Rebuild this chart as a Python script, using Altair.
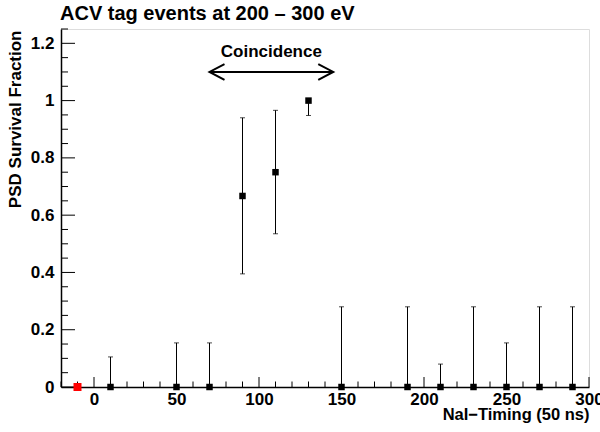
import altair as alt
import pandas as pd

# ---- data ----
bin_x = [10, 50, 70, 90, 110, 130, 150, 190, 210, 230, 250, 270, 290]
frac = [0, 0, 0, 0.667, 0.75, 1.0, 0, 0, 0, 0, 0, 0, 0]
err_lo = [0, 0, 0, 0.395, 0.535, 0.948, 0, 0, 0, 0, 0, 0, 0]
err_hi = [0.105, 0.154, 0.154, 0.94, 0.966, 1.0, 0.28, 0.28, 0.08, 0.28, 0.154, 0.28, 0.28]
red_x = [-10]
red_y = [0]

x_domain = [-20, 300]
y_domain = [0, 1.25]
x_major = [0, 50, 100, 150, 200, 250, 300]
x_minor = [-20, -10, 10, 20, 30, 40, 60, 70, 80, 90, 110, 120, 130, 140, 160, 170, 180,
           190, 210, 220, 230, 240, 260, 270, 280, 290]
y_major = [0, 0.2, 0.4, 0.6, 0.8, 1.0, 1.2]
y_minor = [0.05, 0.1, 0.15, 0.25, 0.3, 0.35, 0.45, 0.5, 0.55, 0.65, 0.7, 0.75, 0.85, 0.9,
           0.95, 1.05, 1.1, 1.15, 1.25]

arrow_x = [70, 145]
arrow_y = [1.1]
note_x = [107.5]
note_y = [1.153]
note_text = ["Coincidence"]

title_text = "ACV tag events at 200 – 300 eV"
x_title = "NaI−Timing (50 ns)"
y_title = "PSD Survival Fraction"

W, H = 528, 358
FONT = "Liberation Sans"

pts = pd.DataFrame({"x": bin_x, "y": frac, "lo": err_lo, "hi": err_hi})
red = pd.DataFrame({"x": red_x, "y": red_y})
xmaj = pd.DataFrame({"x": x_major})
xmin = pd.DataFrame({"x": x_minor})
ymaj = pd.DataFrame({"y": y_major})
ymin = pd.DataFrame({"y": y_minor})
arrow = pd.DataFrame({"x": [arrow_x[0]], "x2": [arrow_x[1]], "y": arrow_y})
heads = pd.DataFrame({"x": arrow_x, "y": arrow_y * 2, "side": ["left", "right"]})
note = pd.DataFrame({"x": note_x, "y": note_y, "t": note_text})

xs = alt.Scale(domain=x_domain, nice=False, zero=False)
ys = alt.Scale(domain=y_domain, nice=False, zero=False)

xaxis = alt.Axis(
    values=x_major, ticks=False, tickSize=0, grid=False,
    domainColor="black", domainWidth=1.5,
    labelFont=FONT, labelFontWeight="bold", labelFontSize=17, labelColor="black",
    labelPadding=4, labelFlush=False, labelBound=False, labelOverlap=False,
    title=x_title, titleFont=FONT, titleFontSize=16.5, titleFontWeight="bold",
    titleColor="black", titleAnchor="end", titleAlign="right",
    titleBaseline="alphabetic", titleX=W, titleY=32,
)
yaxis = alt.Axis(
    values=y_major, ticks=False, tickSize=0, grid=False,
    labelExpr="datum.value == 0 ? '0\u00a0\u00a0' : format(datum.value, '~g')",
    domainColor="black", domainWidth=1.5,
    labelFont=FONT, labelFontWeight="bold", labelFontSize=17, labelColor="black",
    labelPadding=7, labelFlush=False, labelBound=False, labelOverlap=False,
    title=y_title, titleFont=FONT, titleFontSize=17, titleFontWeight="bold",
    titleColor="black", titleAngle=270, titleAlign="right", titleBaseline="middle",
    titleX=-46, titleY=1,
)

X = alt.X("x:Q", scale=xs, axis=xaxis)
Y = alt.Y("y:Q", scale=ys, axis=yaxis)

errbars = alt.Chart(pts).mark_rule(color="black", strokeWidth=1).encode(
    x=X, y=alt.Y("lo:Q", scale=ys, axis=yaxis), y2="hi:Q"
)
caps_hi = alt.Chart(pts).mark_point(shape="stroke", size=25, color="black",
                                    strokeWidth=1).encode(
    x=X, y=alt.Y("hi:Q", scale=ys, axis=yaxis))
caps_lo = alt.Chart(pts).mark_point(shape="stroke", size=25, color="black",
                                    strokeWidth=1).encode(
    x=X, y=alt.Y("lo:Q", scale=ys, axis=yaxis))
points = alt.Chart(pts).mark_point(shape="square", filled=True, size=42,
                                   color="black", opacity=1).encode(x=X, y=Y)
red_pt = alt.Chart(red).mark_point(shape="square", filled=True, size=64,
                                   color="#ff0000", opacity=1).encode(x=X, y=Y)

xt_major = alt.Chart(xmaj).mark_rule(color="black", strokeWidth=1).encode(
    x=X, y=alt.value(H), y2=alt.value(H - 10))
xt_minor = alt.Chart(xmin).mark_rule(color="black", strokeWidth=1).encode(
    x=X, y=alt.value(H), y2=alt.value(H - 5.5))
yt_major = alt.Chart(ymaj).mark_rule(color="black", strokeWidth=1).encode(
    y=Y, x=alt.value(0), x2=alt.value(14))
yt_minor = alt.Chart(ymin).mark_rule(color="black", strokeWidth=1).encode(
    y=Y, x=alt.value(0), x2=alt.value(7))

arrow_line = alt.Chart(arrow).mark_rule(color="black", strokeWidth=2).encode(
    x=X, x2="x2:Q", y=Y)
head_l = alt.Chart(heads[heads.side == "left"]).mark_point(
    shape="M 1 -0.53 L 0 0 L 1 0.53", size=900, filled=False, color="black",
    strokeWidth=2, opacity=1).encode(x=X, y=Y)
head_r = alt.Chart(heads[heads.side == "right"]).mark_point(
    shape="M -1 -0.53 L 0 0 L -1 0.53", size=900, filled=False, color="black",
    strokeWidth=2, opacity=1).encode(x=X, y=Y)
note_txt = alt.Chart(note).mark_text(font=FONT, fontWeight="bold", fontSize=17,
                                     color="black", align="center",
                                     baseline="alphabetic").encode(x=X, y=Y, text="t:N")

chart = alt.layer(
    xt_minor, xt_major, yt_minor, yt_major,
    errbars, caps_hi, caps_lo, points, red_pt,
    arrow_line, head_l, head_r, note_txt,
).properties(
    width=W, height=H,
    title=alt.TitleParams(title_text, anchor="start", frame="group", font=FONT,
                          fontSize=20, fontWeight="bold", color="black",
                          baseline="alphabetic", offset=6, dx=-1, dy=17),
    autosize=alt.AutoSizeParams(type="none"),
    padding={"left": 61, "top": 29, "right": 11, "bottom": 45},
).configure_view(stroke="black", strokeWidth=1).configure(background="white")

chart.save("out.html", embed_options={"renderer": "svg", "actions": False})
